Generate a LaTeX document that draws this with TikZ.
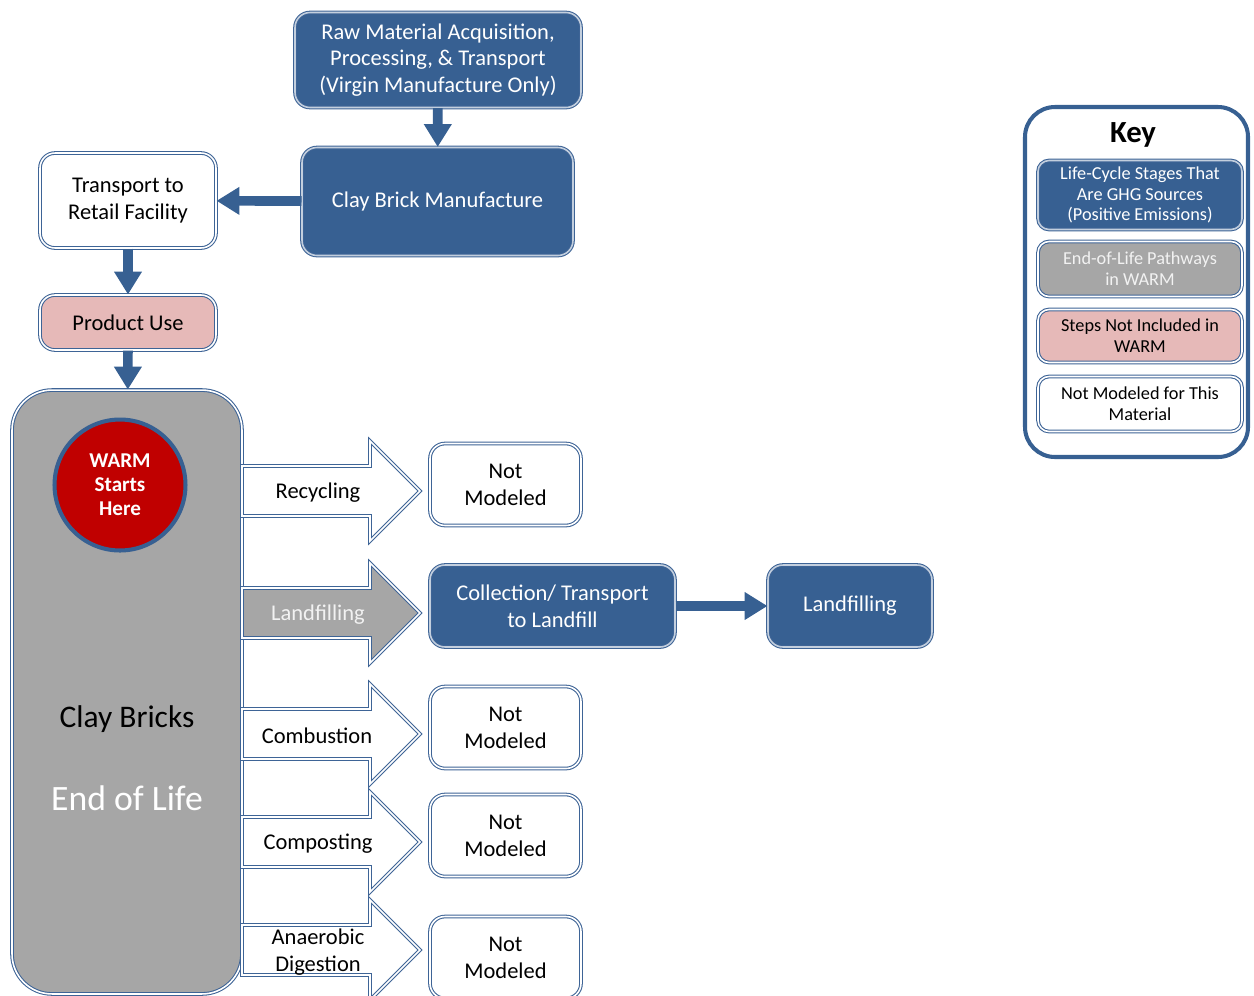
\documentclass[tikz,border=0pt]{standalone}
\usepackage{fontspec}
\setmainfont{Carlito}
\usetikzlibrary{arrows.meta}
\definecolor{mblue}{RGB}{55,96,146}
\definecolor{bline}{RGB}{62,100,150}
\definecolor{mgray}{RGB}{166,166,166}
\definecolor{mpink}{RGB}{230,185,184}
\definecolor{mred}{RGB}{192,0,0}
\definecolor{ltext}{RGB}{242,242,242}
\tikzset{
  box/.style={rounded corners=0.3cm, inner sep=0pt, align=center,
    font=\fontsize{12.8}{15.3}\selectfont, draw=bline, double=white,
    double distance=0.9pt, line width=0.6pt},
  bluebox/.style={box, fill=mblue, text=white, double=white!70!mblue},
  whitebox/.style={box, fill=white},
  pinkbox/.style={box, fill=mpink},
  keybox/.style={box, rounded corners=0.22cm, minimum width=4.08cm,
    font=\fontsize{10.4}{11.9}\selectfont},
  conn/.style={draw=mblue, line width=5.5pt, -{Triangle[width=15pt,length=13pt]}},
  barrowst/.style={draw=bline, double=white, double distance=0.9pt, line width=0.6pt, fill=white},
  blabel/.style={inner sep=0pt, align=center, font=\fontsize{12.8}{15.3}\selectfont},
  pics/barrow/.style={code={
    \path[pic actions] (0,-25) -- (128,-25) -- (128,-50) -- (178,0) -- (128,50) -- (128,25) -- (0,25) -- cycle;}}
}
\begin{document}
\begin{tikzpicture}[x=0.02cm, y=-0.02cm]
\useasboundingbox (0,0) rectangle (1254,995);
\clip (0,0) rectangle (1254,995);

% top chain
\node[bluebox, minimum width=5.72cm, minimum height=1.9cm] (raw) at (438,60)
  {Raw Material Acquisition,\\Processing, \& Transport\\(Virgin Manufacture Only)};
\node[bluebox, minimum width=5.42cm, minimum height=2.16cm] (clay) at (437.5,201.5)
  {Clay Brick Manufacture};
\node[whitebox, minimum width=3.52cm, minimum height=1.9cm] (transport) at (128,200.5)
  {Transport to\\Retail Facility};
\node[pinkbox, minimum width=3.52cm, minimum height=1.1cm] (use) at (128,322.5)
  {Product Use};

% end-of-life column
\node[box, fill=mgray, rounded corners=0.8cm, minimum width=4.6cm, minimum height=12.08cm] (eol) at (127,692) {};
\node[circle, draw=mblue, line width=2.3pt, fill=mred, minimum size=2.62cm, inner sep=0pt,
  text=white, align=center, font=\bfseries\fontsize{12}{13.6}\selectfont] (warm) at (120,485)
  {WARM\\Starts\\Here};
\node[inner sep=0pt, font=\fontsize{17.9}{21}\selectfont] (cb) at (127,719) {Clay Bricks};
\node[inner sep=0pt, text=white, font=\fontsize{20.3}{24}\selectfont] (el) at (127,798) {End of Life};

\draw[conn] (raw) -- (clay);
\draw[conn] (clay) -- (transport);
\draw[conn] (transport) -- (use);
\draw[conn] (use) -- (eol);

% block arrows
\pic[barrowst] at (242,491) {barrow};
\pic[barrowst, fill=mgray] at (242,613) {barrow};
\pic[barrowst] at (242,734) {barrow};
\pic[barrowst] at (242,842) {barrow};
\pic[barrowst] at (242,950) {barrow};
\node[blabel] (l1) at (318,493) {Recycling};
\node[blabel, text=ltext] (l2) at (318,615) {Landfilling};
\node[blabel] (l3) at (317,736) {Combustion};
\node[blabel] (l4) at (318,844) {Composting};
\node[blabel] (l5) at (318,952) {Anaerobic\\Digestion};

% outcome boxes
\node[whitebox, minimum width=3.02cm, minimum height=1.64cm] (nm1) at (505.5,484.5) {Not\\Modeled};
\node[bluebox, minimum width=4.9cm, minimum height=1.64cm] (coll) at (552.5,606) {Collection/ Transport\\to Landfill};
\node[bluebox, minimum width=3.28cm, minimum height=1.64cm] (lf) at (850,606) {Landfilling};
\node[whitebox, minimum width=3.02cm, minimum height=1.64cm] (nm2) at (505.5,727.5) {Not\\Modeled};
\node[whitebox, minimum width=3.02cm, minimum height=1.64cm] (nm3) at (505.5,835.5) {Not\\Modeled};
\node[whitebox, minimum width=3.02cm, minimum height=1.64cm] (nm4) at (505.5,957.5) {Not\\Modeled};
\draw[conn] (coll) -- (lf);

% key
\draw[draw=mblue, line width=2.3pt, rounded corners=0.6cm, fill=white] (1025,107) rectangle (1248,457);
\node[inner sep=0pt, font=\bfseries\fontsize{17.5}{19}\selectfont] (key) at (1133,135) {Key};
\node[keybox, bluebox, rounded corners=0.22cm, font=\fontsize{10.4}{11.9}\selectfont, minimum width=4.08cm, minimum height=1.38cm] (k1) at (1140,195)
  {Life-Cycle Stages That\\Are GHG Sources\\(Positive Emissions)};
\node[keybox, fill=mgray, text=ltext, minimum height=1.1cm] (k2) at (1140,269)
  {End-of-Life Pathways\\in WARM};
\node[keybox, fill=mpink, minimum height=1.06cm] (k3) at (1140,336)
  {Steps Not Included in\\WARM};
\node[keybox, fill=white, minimum height=1.1cm] (k4) at (1140,404)
  {Not Modeled for This\\Material};
\end{tikzpicture}
\end{document}
